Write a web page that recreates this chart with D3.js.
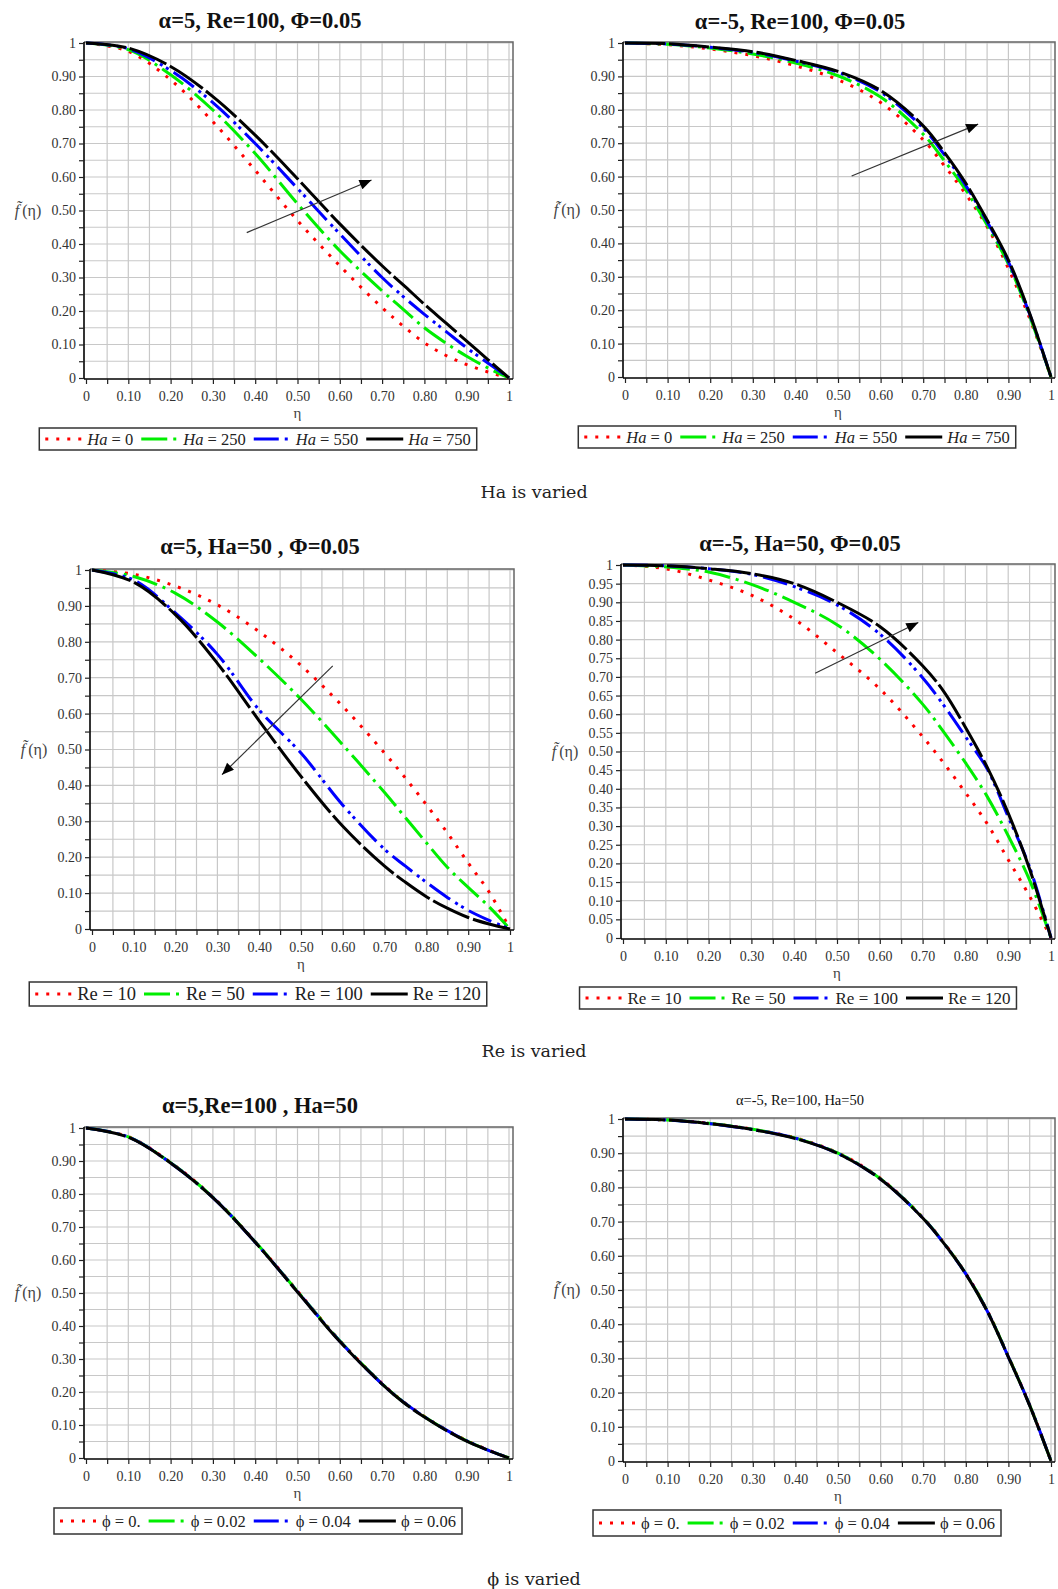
<!DOCTYPE html>
<html>
<head>
<meta charset="utf-8">
<script src="https://cdn.jsdelivr.net/npm/d3@7"></script>
<style>
body { margin: 0; background: #fff; }
svg { display: block; }
</style>
</head>
<body>
<svg id="fig" width="1058" height="1589"></svg>
<script>
var eta = [0, 0.1, 0.2, 0.3, 0.4, 0.5, 0.6, 0.7, 0.75, 0.8, 0.85, 0.9, 0.95, 1];

// (a) alpha=5, Re=100, Phi=0.05 -- Ha varied
var aHa0   = [1, 0.975, 0.89, 0.765, 0.62, 0.47, 0.335, 0.21, 0.155, 0.105, 0.068, 0.04, 0.018, 0];
var aHa250 = [1, 0.98, 0.905, 0.80, 0.67, 0.52, 0.38, 0.26, 0.205, 0.15, 0.105, 0.065, 0.03, 0];
var aHa550 = [1, 0.983, 0.918, 0.822, 0.70, 0.566, 0.43, 0.30, 0.243, 0.19, 0.14, 0.09, 0.045, 0];
var aHa750 = [1, 0.985, 0.93, 0.84, 0.725, 0.595, 0.46, 0.335, 0.278, 0.22, 0.165, 0.11, 0.055, 0];

// (b) alpha=-5, Re=100, Phi=0.05 -- Ha varied
var bHa0   = [1, 0.995, 0.982, 0.962, 0.932, 0.89, 0.822, 0.71, 0.632, 0.547, 0.45, 0.325, 0.175, 0];
var bHa250 = [1, 0.996, 0.985, 0.967, 0.94, 0.902, 0.838, 0.727, 0.647, 0.56, 0.455, 0.338, 0.182, 0];
var bHa550 = [1, 0.997, 0.987, 0.972, 0.946, 0.912, 0.853, 0.745, 0.665, 0.573, 0.465, 0.345, 0.188, 0];
var bHa750 = [1, 0.998, 0.988, 0.974, 0.948, 0.915, 0.858, 0.752, 0.672, 0.58, 0.47, 0.35, 0.19, 0];

// (c) alpha=5, Ha=50, Phi=0.05 -- Re varied
var cRe10  = [1, 0.988, 0.955, 0.903, 0.828, 0.734, 0.62, 0.49, 0.42, 0.346, 0.268, 0.184, 0.103, 0];
var cRe50  = [1, 0.982, 0.935, 0.855, 0.753, 0.64, 0.513, 0.38, 0.31, 0.24, 0.172, 0.116, 0.062, 0];
var cRe100 = [1, 0.972, 0.88, 0.765, 0.61, 0.49, 0.345, 0.222, 0.175, 0.13, 0.088, 0.052, 0.024, 0];
var cRe120 = [1, 0.966, 0.875, 0.74, 0.58, 0.425, 0.286, 0.175, 0.13, 0.09, 0.058, 0.032, 0.014, 0];

// (d) alpha=-5, Ha=50, Phi=0.05 -- Re varied
var dRe10  = [1, 0.99, 0.96, 0.919, 0.855, 0.765, 0.668, 0.54, 0.468, 0.39, 0.308, 0.21, 0.112, 0];
var dRe50  = [1, 0.995, 0.981, 0.948, 0.90, 0.84, 0.748, 0.627, 0.551, 0.47, 0.381, 0.274, 0.155, 0];
var dRe100 = [1, 0.998, 0.99, 0.975, 0.942, 0.893, 0.815, 0.698, 0.623, 0.54, 0.455, 0.325, 0.19, 0];
var dRe120 = [1, 0.998, 0.99, 0.977, 0.95, 0.90, 0.835, 0.73, 0.66, 0.565, 0.46, 0.335, 0.185, 0];

// (e) alpha=5, Re=100, Ha=50 -- phi varied
var ePhi0   = [1, 0.974, 0.896, 0.791, 0.656, 0.506, 0.356, 0.226, 0.171, 0.126, 0.087, 0.053, 0.025, 0];
var ePhi002 = [1, 0.973, 0.895, 0.79, 0.655, 0.505, 0.355, 0.225, 0.17, 0.125, 0.086, 0.052, 0.024, 0];
var ePhi004 = [1, 0.973, 0.894, 0.789, 0.654, 0.504, 0.354, 0.224, 0.17, 0.125, 0.086, 0.052, 0.024, 0];
var ePhi006 = [1, 0.972, 0.894, 0.789, 0.654, 0.503, 0.353, 0.224, 0.169, 0.124, 0.085, 0.051, 0.024, 0];

// (f) alpha=-5, Re=100, Ha=50 -- phi varied
var fPhi0   = [1, 0.997, 0.987, 0.97, 0.945, 0.901, 0.826, 0.711, 0.636, 0.549, 0.441, 0.306, 0.164, 0];
var fPhi002 = [1, 0.997, 0.987, 0.97, 0.944, 0.90, 0.825, 0.71, 0.635, 0.548, 0.44, 0.305, 0.163, 0];
var fPhi004 = [1, 0.997, 0.986, 0.969, 0.944, 0.899, 0.824, 0.709, 0.634, 0.547, 0.439, 0.304, 0.163, 0];
var fPhi006 = [1, 0.997, 0.986, 0.969, 0.943, 0.899, 0.824, 0.709, 0.634, 0.547, 0.439, 0.304, 0.162, 0];

// legend labels
var haLabels  = ["0", "250", "550", "750"];
var reLabels  = ["10", "50", "100", "120"];
var phiLabels = ["0.", "0.02", "0.04", "0.06"];

var titles = ["α=5, Re=100, Φ=0.05", "α=-5, Re=100, Φ=0.05",
              "α=5, Ha=50 , Φ=0.05", "α=-5, Ha=50,  Φ=0.05",
              "α=5,Re=100 , Ha=50", "α=-5, Re=100, Ha=50"];
var captions = ["Ha is varied", "Re is varied", "ϕ is varied"];

// trend arrows, [start, end] in data units
var arrowA = [[0.38, 0.434], [0.675, 0.591]];
var arrowB = [[0.532, 0.602], [0.829, 0.757]];
var arrowC = [[0.576, 0.733], [0.311, 0.43]];
var arrowD = [[0.449, 0.71], [0.69, 0.846]];

var styles = [
  { color: "#ff0000", dash: "3,8" },
  { color: "#00ee00", dash: "26,6,3,6" },
  { color: "#0000ff", dash: "25,6,3,4,3,6" },
  { color: "#000000", dash: "40,4" }
];

var svg = d3.select("#fig");
var serif = "'Liberation Serif', 'Times New Roman', serif";

svg.append("defs").append("marker")
    .attr("id", "head")
    .attr("viewBox", "0 0 12 10")
    .attr("refX", 12).attr("refY", 5)
    .attr("markerUnits", "userSpaceOnUse")
    .attr("markerWidth", 13).attr("markerHeight", 10)
    .attr("orient", "auto")
  .append("path")
    .attr("d", "M0,0 L12,5 L0,10 Z")
    .attr("fill", "#000");

function drawPanel(p) {
  var g = svg.append("g");
  var x = d3.scaleLinear().domain([0, 1]).range([p.x0, p.x1]);
  var y = d3.scaleLinear().domain([0, 1]).range([p.yBot, p.yTop]);
  var left = p.x0 - 2, right = p.x1 + 4, top = p.yTop - 1, bottom = p.yBot + 1;
  var fine = x.ticks(20);

  // grid
  g.selectAll(".vg").data(fine.filter(d => d > 0))
    .enter().append("line")
      .attr("x1", d => x(d)).attr("x2", d => x(d))
      .attr("y1", top).attr("y2", bottom)
      .attr("stroke", "#c8c8c8").attr("stroke-width", 1.2);
  g.selectAll(".hg").data(fine.filter(d => d > 0))
    .enter().append("line")
      .attr("x1", left).attr("x2", right)
      .attr("y1", d => y(d)).attr("y2", d => y(d))
      .attr("stroke", "#c8c8c8").attr("stroke-width", 1.2);

  // frame top / right
  g.append("path")
    .attr("d", "M" + left + "," + top + "H" + right + "V" + bottom)
    .attr("fill", "none").attr("stroke", "#666").attr("stroke-width", 1.5);

  var fmt = function(d) {
    if (d === 0) return "0";
    if (d === 1) return "1";
    var tenth = Math.abs(Math.round(d * 100) % 10) === 0;
    return (p.allY || tenth) ? d3.format(".2f")(d) : "";
  };
  var xfmt = function(d) {
    if (d === 0) return "0";
    if (d === 1) return "1";
    return Math.abs(Math.round(d * 100) % 10) === 0 ? d3.format(".2f")(d) : "";
  };

  var ya = g.append("g")
      .attr("transform", "translate(" + left + ",0)")
      .call(d3.axisLeft(y).tickValues(fine).tickFormat(fmt).tickSize(5).tickSizeOuter(0).tickPadding(3));
  var xa = g.append("g")
      .attr("transform", "translate(0," + bottom + ")")
      .call(d3.axisBottom(x).tickValues(fine).tickFormat(xfmt).tickSize(5).tickSizeOuter(0).tickPadding(7));
  [ya, xa].forEach(function(a) {
    a.select(".domain").attr("stroke", "#000").attr("stroke-width", 1.6);
    a.selectAll(".tick line").attr("stroke", "#222").attr("stroke-width", 1.2);
    a.selectAll("text").attr("font-family", serif).attr("font-size", 14).attr("fill", "#333");
  });
  ya.select(".domain").attr("d", "M0," + top + "V" + bottom);
  xa.select(".domain").attr("d", "M" + left + ",0H" + right);

  // curves
  var line = d3.line()
      .x((d, i) => x(eta[i]))
      .y(d => y(d))
      .curve(d3.curveCatmullRom.alpha(0.5));
  p.series.forEach(function(s, i) {
    g.append("path")
      .attr("d", line(s))
      .attr("fill", "none")
      .attr("stroke", styles[i].color)
      .attr("stroke-width", 3)
      .attr("stroke-dasharray", styles[i].dash);
  });

  // arrow
  if (p.arrow) {
    g.append("line")
      .attr("x1", x(p.arrow[0][0])).attr("y1", y(p.arrow[0][1]))
      .attr("x2", x(p.arrow[1][0])).attr("y2", y(p.arrow[1][1]))
      .attr("stroke", "#333").attr("stroke-width", 1.2)
      .attr("marker-end", "url(#head)");
  }

  // title
  svg.append("text")
    .attr("x", p.titleX).attr("y", p.titleY)
    .attr("text-anchor", "middle")
    .attr("font-family", serif)
    .attr("font-weight", p.smallTitle ? "normal" : "bold")
    .attr("font-size", p.smallTitle ? 14.5 : 22.5)
    .attr("fill", "#111")
    .text(p.title);

  // axis labels
  var yl = svg.append("text")
    .attr("x", p.x0 - 58).attr("y", (p.yTop + p.yBot) / 2 + 5)
    .attr("text-anchor", "middle")
    .attr("font-family", serif).attr("font-size", 16).attr("fill", "#444");
  yl.append("tspan").attr("font-style", "italic").text("f\u0303");
  yl.append("tspan").attr("dx", 3).text("(η)");
  svg.append("text")
    .attr("x", (p.x0 + p.x1) / 2).attr("y", p.yBot + 40)
    .attr("text-anchor", "middle")
    .attr("font-family", serif).attr("font-size", 15).attr("fill", "#444")
    .text("η");

  // legend
  var lg = svg.append("g");
  var cx = 0, mid = p.legH / 2;
  p.labels.forEach(function(lab, i) {
    lg.append("line")
      .attr("x1", cx).attr("x2", cx + 37)
      .attr("y1", mid).attr("y2", mid)
      .attr("stroke", styles[i].color).attr("stroke-width", 3.2)
      .attr("stroke-dasharray", styles[i].dash);
    cx += 42;
    var t = lg.append("text")
      .attr("x", cx).attr("y", mid + 6)
      .attr("font-family", serif).attr("font-size", p.legFont).attr("fill", "#222");
    t.append("tspan").attr("font-style", p.italicName ? "italic" : "normal").text(p.name);
    t.append("tspan").text(" = " + lab);
    cx += t.node().getComputedTextLength() + 8;
  });
  var w = cx - 8 + 12;
  lg.insert("rect", ":first-child")
    .attr("x", -6).attr("y", 0).attr("width", w).attr("height", p.legH)
    .attr("fill", "#fff").attr("stroke", "#333").attr("stroke-width", 1.5);
  lg.attr("transform", "translate(" + (p.legCx - w / 2 + 6) + "," + p.legY + ")");
}

var panels = [
  { x0: 86, x1: 509, yTop: 43, yBot: 378, series: [aHa0, aHa250, aHa550, aHa750], arrow: arrowA,
    title: titles[0], titleX: 260, titleY: 28, labels: haLabels, name: "Ha", italicName: true,
    legCx: 258, legY: 428, legH: 22, legFont: 16.5 },
  { x0: 625, x1: 1051, yTop: 43, yBot: 377, series: [bHa0, bHa250, bHa550, bHa750], arrow: arrowB,
    title: titles[1], titleX: 800, titleY: 29, labels: haLabels, name: "Ha", italicName: true,
    legCx: 797, legY: 426, legH: 22, legFont: 16.5 },
  { x0: 92, x1: 510, yTop: 570, yBot: 929, series: [cRe10, cRe50, cRe100, cRe120], arrow: arrowC,
    title: titles[2], titleX: 260, titleY: 554, labels: reLabels, name: "Re", italicName: false,
    legCx: 258, legY: 982, legH: 24, legFont: 18.5 },
  { x0: 623, x1: 1051, yTop: 565, yBot: 938, series: [dRe10, dRe50, dRe100, dRe120], arrow: arrowD, allY: true,
    title: titles[3], titleX: 800, titleY: 551, labels: reLabels, name: "Re", italicName: false,
    legCx: 798, legY: 987, legH: 22, legFont: 17 },
  { x0: 86, x1: 509, yTop: 1128, yBot: 1458, series: [ePhi0, ePhi002, ePhi004, ePhi006],
    title: titles[4], titleX: 260, titleY: 1113, labels: phiLabels, name: "ϕ", italicName: false,
    legCx: 258, legY: 1508, legH: 26, legFont: 16.5 },
  { x0: 625, x1: 1051, yTop: 1119, yBot: 1461, series: [fPhi0, fPhi002, fPhi004, fPhi006], smallTitle: true,
    title: titles[5], titleX: 800, titleY: 1105, labels: phiLabels, name: "ϕ", italicName: false,
    legCx: 797, legY: 1510, legH: 26, legFont: 16.5 }
];

panels.forEach(drawPanel);

// captions under each row
var capY = [498, 1057, 1585];
captions.forEach(function(c, i) {
  svg.append("text")
    .attr("x", 534).attr("y", capY[i])
    .attr("text-anchor", "middle")
    .attr("font-family", "'DejaVu Serif', serif")
    .attr("font-size", 17.5).attr("fill", "#222")
    .text(c);
});
</script>
</body>
</html>
